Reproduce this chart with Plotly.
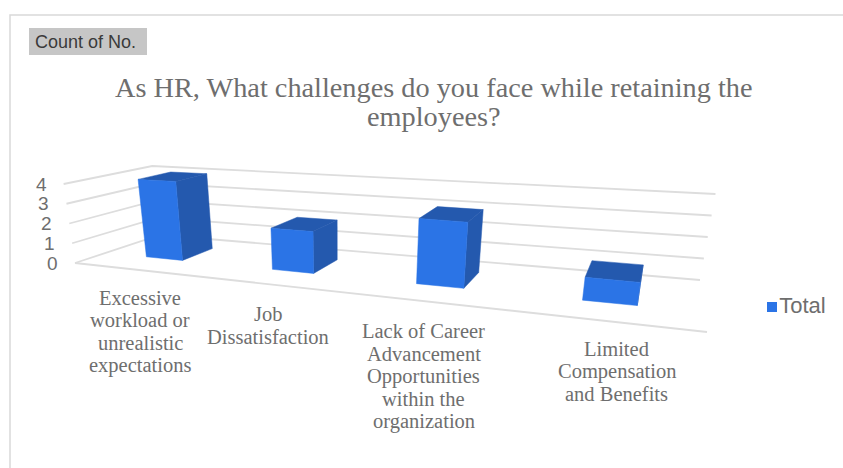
import numpy as np
import plotly.graph_objects as go

categories = [
    "Excessive<br>workload or<br>unrealistic<br>expectations",
    "Job<br>Dissatisfaction",
    "Lack of Career<br>Advancement<br>Opportunities<br>within the<br>organization",
    "Limited<br>Compensation<br>and Benefits",
]
counts = [4, 2, 3, 1]
axis_ticks = [0, 1, 2, 3, 4]
series_name = "Total"
title_lines = ["As HR, What challenges do you face while retaining the", "employees?"]
filter_label = "Count of No."

FRONT = "#2B74E6"
DARK = "#2459AE"
GRID = "#DDDDDD"
TEXT = "#6E6E6E"

W, H = 843, 468
V_MAX = 4
BAR_WIDTH = 0.30
DEPTH = (0.33, 0.72)

# Floor of the 3D plot box on the canvas: front-left, front-right, back-right, back-left
FLOOR = [(75, 263), (707, 332), (700, 280), (160, 235)]
# Height of the axis range above each floor corner, same order
BOX_HEIGHT = [79, 98, 86, 69]
LEAN = 0.043
LEAN_ORIGIN = 340
U_WARP = 0.08


def homography(quad):
    """Map the unit square onto a quadrilateral."""
    a, b = [], []
    for (s, t), (x, y) in zip([(0, 0), (1, 0), (1, 1), (0, 1)], quad):
        a.append([s, t, 1, 0, 0, 0, -s * x, -t * x])
        a.append([0, 0, 0, s, t, 1, -s * y, -t * y])
        b += [x, y]
    return np.append(np.linalg.solve(np.array(a, float), np.array(b, float)), 1).reshape(3, 3)


H_FLOOR = homography(FLOOR)


def project(u, d, v):
    """Category position u, depth d (0 front, 1 back) and value v to canvas coordinates."""
    s = u / len(counts)
    s = s + U_WARP * s * (1 - s)
    p = H_FLOOR @ np.array([s, d, 1.0])
    x, y = p[:2] / p[2]
    h0, h1, h2, h3 = BOX_HEIGHT
    height = (h0 * (1 - s) + h1 * s) * (1 - d) + (h3 * (1 - s) + h2 * s) * d
    f = v / V_MAX
    return np.array([x + LEAN * (x - LEAN_ORIGIN) * f, y - height * f])


def path(points):
    xy = [project(*p) for p in points]
    return [q[0] for q in xy], [q[1] for q in xy]


fig = go.Figure()
n = len(counts)

# Gridlines across the left and back walls
for tick in axis_ticks:
    x, y = path([(0, 0, tick), (0, 1, tick), (n, 1, tick)])
    fig.add_trace(go.Scatter(x=x, y=y, mode="lines", line=dict(color=GRID, width=1.8),
                             hoverinfo="skip", showlegend=False))

# Front edge of the floor
x, y = path([(0, 0, 0), (n, 0, 0)])
fig.add_trace(go.Scatter(x=x, y=y, mode="lines", line=dict(color=GRID, width=1.8),
                         hoverinfo="skip", showlegend=False))

# Columns: side, top and front faces
for i, value in enumerate(counts):
    u0, u1 = i + 0.5 - BAR_WIDTH / 2, i + 0.5 + BAR_WIDTH / 2
    d0, d1 = DEPTH
    faces = [
        ([(u1, d0, 0), (u1, d1, 0), (u1, d1, value), (u1, d0, value)], DARK),
        ([(u0, d0, value), (u1, d0, value), (u1, d1, value), (u0, d1, value)], DARK),
        ([(u0, d0, 0), (u1, d0, 0), (u1, d0, value), (u0, d0, value)], FRONT),
    ]
    for corners, colour in faces:
        x, y = path(corners)
        fig.add_trace(go.Scatter(x=x + x[:1], y=y + y[:1], mode="lines", fill="toself",
                                 fillcolor=colour, line=dict(color=colour, width=0.5),
                                 hoverinfo="skip", showlegend=False))

# Series key
fig.add_trace(go.Scatter(x=[772], y=[307], mode="markers+text", text=[series_name],
                         textposition="middle right", name=series_name, showlegend=False,
                         marker=dict(symbol="square", size=10, color=FRONT),
                         textfont=dict(family="Liberation Sans", size=22, color=TEXT)))

annotations = []
for tick in axis_ticks:
    px, py = project(0, 0, tick)
    annotations.append(dict(x=px, y=py, text=str(tick), showarrow=False, xanchor="right",
                            yanchor="middle", xshift=-15,
                            font=dict(family="Liberation Sans", size=19, color=TEXT)))

# Category labels hang below the front edge of the floor
LABEL_SHIFT = [5, -1, 0, 12]
LABEL_DROP = [28, 30, 30, 28]
LINE_STEP = 22.5
for i, label in enumerate(categories):
    px, py = project(i + 0.5, 0, 0)
    for k, line in enumerate(label.split("<br>")):
        annotations.append(dict(x=px + LABEL_SHIFT[i], y=py + LABEL_DROP[i] + k * LINE_STEP, text=line,
                                showarrow=False, xanchor="center", yanchor="middle",
                                font=dict(family="Liberation Serif", size=20.5, color=TEXT)))

for k, line in enumerate(title_lines):
    annotations.append(dict(x=433.5, y=87 + k * 29.5, text=line, showarrow=False, xanchor="center",
                            yanchor="middle",
                            font=dict(family="Liberation Serif", size=28.3, color=TEXT)))

annotations.append(dict(x=33, y=42, text=filter_label, showarrow=False, xanchor="left",
                        yanchor="middle", font=dict(family="Liberation Sans", size=18, color="#3A3A3A")))

fig.update_layout(
    width=W, height=H, margin=dict(l=0, r=0, t=0, b=0),
    paper_bgcolor="white", plot_bgcolor="white",
    xaxis=dict(range=[0, W], visible=False, fixedrange=True),
    yaxis=dict(range=[H, 0], visible=False, fixedrange=True),
    annotations=annotations,
    shapes=[
        dict(type="rect", x0=10, y0=15, x1=W + 5, y1=H + 5, line=dict(color="#D9D9D9", width=1.5),
             fillcolor="rgba(0,0,0,0)", layer="below"),
        dict(type="rect", x0=29, y0=28, x1=147, y1=55, line=dict(width=0),
             fillcolor="#C6C6C6", layer="below"),
    ],
)

fig.write_html("out.html")
